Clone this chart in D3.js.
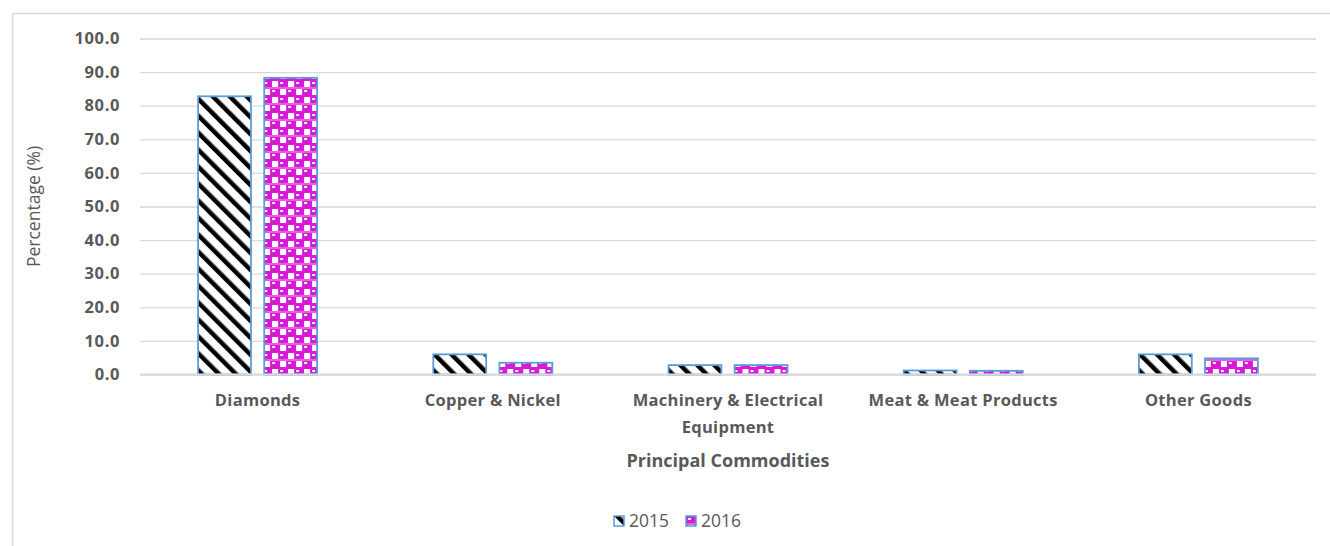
<!DOCTYPE html>
<html>
<head>
<meta charset="utf-8">
<script src="https://cdn.jsdelivr.net/npm/d3@7"></script>
<style>
  body { margin: 0; background: #fff; }
  text { font-family: "Open Sans", sans-serif; fill: #595959; }
</style>
</head>
<body>
<div class="chart"></div>
<script>
var categories = ["Diamonds", "Copper & Nickel", "Machinery & Electrical Equipment", "Meat & Meat Products", "Other Goods"];
var catLines = [["Diamonds"], ["Copper & Nickel"], ["Machinery & Electrical", "Equipment"], ["Meat & Meat Products"], ["Other Goods"]];
var years = ["2015", "2016"];
var values2015 = [82.8, 6.0, 2.8, 1.2, 6.0];
var values2016 = [88.3, 3.5, 2.8, 1.1, 4.8];
var yTicks = [0, 10, 20, 30, 40, 50, 60, 70, 80, 90, 100];

var W = 1330, H = 546;
var margin = {top: 38.5, left: 140, right: 14, bottom: 171.5};

var svg = d3.select(".chart")
            .append("svg")
            .attr("width", W)
            .attr("height", H);

// patterns
var defs = svg.append("defs");
var stripe = defs.append("pattern")
                 .attr("id", "p2015")
                 .attr("patternUnits", "userSpaceOnUse")
                 .attr("width", 12)
                 .attr("height", 12)
                 .attr("patternTransform", "rotate(-45)");
stripe.append("rect").attr("width", 12).attr("height", 12).attr("fill", "#fff");
stripe.append("rect").attr("x", 0).attr("width", 4.5).attr("height", 12).attr("fill", "#000");

var sphere = defs.append("pattern")
                 .attr("id", "p2016")
                 .attr("patternUnits", "userSpaceOnUse")
                 .attr("width", 16)
                 .attr("height", 16);
sphere.append("rect").attr("width", 16).attr("height", 16).attr("fill", "#d61ad6");
sphere.append("rect").attr("x", 10).attr("y", 1).attr("width", 6).attr("height", 6).attr("fill", "#fff");
sphere.append("rect").attr("x", 2).attr("y", 9).attr("width", 6).attr("height", 6).attr("fill", "#fff");
sphere.append("rect").attr("x", 2).attr("y", 2).attr("width", 3).attr("height", 2).attr("fill", "#fff");
sphere.append("rect").attr("x", 10).attr("y", 10).attr("width", 3).attr("height", 2).attr("fill", "#fff");
sphere.append("rect").attr("x", 0).attr("y", 7.5).attr("width", 16).attr("height", 1).attr("fill", "#f3a6f3");

var fills = {"2015": "url(#p2015)", "2016": "url(#p2016)"};

// chart frame
svg.append("rect")
   .attr("x", 12.5)
   .attr("y", 13.5)
   .attr("width", W)
   .attr("height", H)
   .attr("fill", "none")
   .attr("stroke", "#d9d9d9")
   .attr("stroke-width", 1.5);

var x0 = d3.scaleBand()
           .domain(categories)
           .range([margin.left, W - margin.right])
           .paddingInner(0.494)
           .paddingOuter(0.247);
var x1 = d3.scaleBand()
           .domain(years)
           .range([0, x0.bandwidth()])
           .paddingInner(0.2);
var yScale = d3.scaleLinear()
               .domain([0, 100])
               .range([H - margin.bottom, margin.top]);

// grid + y labels
var yAxis = d3.axisLeft()
              .scale(yScale)
              .tickValues(yTicks)
              .tickSize(-(W - margin.left - margin.right))
              .tickPadding(20)
              .tickFormat(d3.format(".1f"));
var gy = svg.append("g")
            .attr("transform", "translate(" + margin.left + ",0)")
            .call(yAxis);
gy.select(".domain").remove();
gy.selectAll("line").attr("stroke", "#d9d9d9").attr("stroke-width", 1.3);
gy.selectAll("text")
  .style("font-family", "'Open Sans', sans-serif")
  .style("font-size", "16.5px")
  .style("font-weight", "bold")
  .style("letter-spacing", "0.6px")
  .attr("fill", "#595959");

// bars
var rows = categories.map(function(c, i){
  return {cat: c, vals: [{year: "2015", v: values2015[i]}, {year: "2016", v: values2016[i]}]};
});
var groups = svg.selectAll("g.grp")
                .data(rows)
                .enter()
                .append("g")
                .attr("class", "grp")
                .attr("transform", function(d){ return "translate(" + x0(d.cat) + ",0)"; });
groups.selectAll("rect")
      .data(function(d){ return d.vals; })
      .enter()
      .append("rect")
      .attr("x", function(d){ return x1(d.year); })
      .attr("y", function(d){ return yScale(d.v); })
      .attr("width", x1.bandwidth())
      .attr("height", function(d){ return yScale(0) - yScale(d.v); })
      .attr("fill", function(d){ return fills[d.year]; })
      .attr("stroke", "#5b9bd5")
      .attr("stroke-width", 1.8);

// baseline
svg.append("line")
   .attr("x1", margin.left)
   .attr("x2", W - margin.right)
   .attr("y1", yScale(0))
   .attr("y2", yScale(0))
   .attr("stroke", "#d9d9d9")
   .attr("stroke-width", 1.8);

// category labels
svg.selectAll("text.cat")
   .data(categories)
   .enter()
   .append("text")
   .attr("class", "cat")
   .attr("text-anchor", "middle")
   .style("font-size", "16.5px")
   .style("font-weight", "bold")
   .style("letter-spacing", "0.3px")
   .each(function(d, i){
     var t = d3.select(this);
     catLines[i].forEach(function(line, j){
       t.append("tspan")
        .attr("x", x0(d) + x0.bandwidth() / 2)
        .attr("y", 406 + j * 27)
        .text(line);
     });
   });

// axis titles
svg.append("text")
   .attr("x", (margin.left + W - margin.right) / 2)
   .attr("y", 467)
   .attr("text-anchor", "middle")
   .style("font-size", "18px")
   .style("font-weight", "bold")
   .text("Principal Commodities");

svg.append("text")
   .attr("transform", "translate(40," + ((yScale(0) + yScale(100)) / 2) + ") rotate(-90)")
   .attr("text-anchor", "middle")
   .style("font-size", "17.5px")
   .text("Percentage (%)");

// legend
var legend = svg.append("g")
                .selectAll("g")
                .data(years)
                .enter()
                .append("g")
                .attr("transform", function(d, i){ return "translate(" + (614 + i * 72) + ",516)"; });
legend.append("rect")
      .attr("width", 10)
      .attr("height", 10)
      .attr("fill", function(d){ return fills[d]; })
      .attr("stroke", "#5b9bd5")
      .attr("stroke-width", 1.5);
legend.append("text")
      .attr("x", 15)
      .attr("y", 11)
      .style("font-size", "17.5px")
      .text(function(d){ return d; });
</script>
</body>
</html>
